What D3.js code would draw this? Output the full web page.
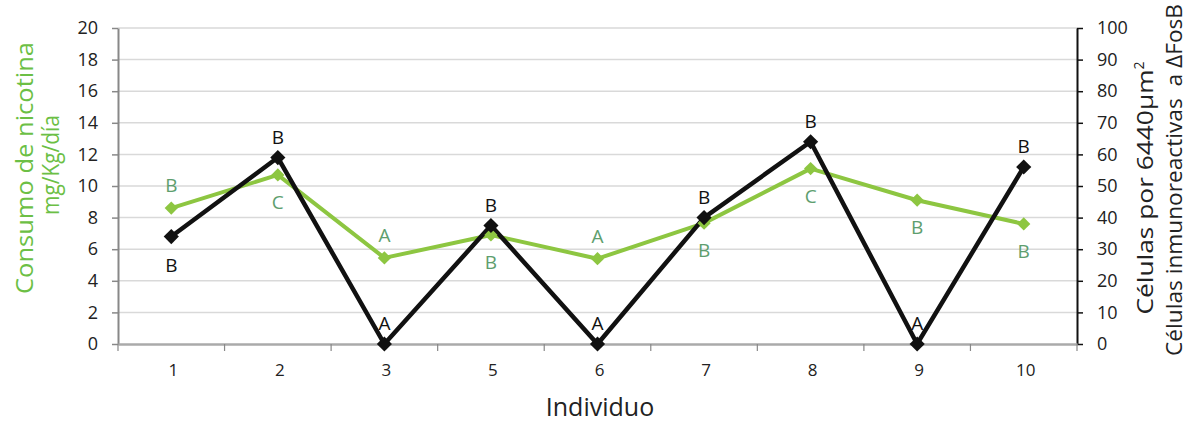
<!DOCTYPE html>
<html><head><meta charset="utf-8">
<script src="https://cdn.jsdelivr.net/npm/d3@7"></script>
<style>body{margin:0;background:#fff;} svg{display:block;}</style>
</head><body>
<svg id="chart" width="1190" height="424"></svg>
<script>
const categories = ["1","2","3","5","6","7","8","9","10"];
const nicotina = [8.6, 10.7, 5.45, 6.9, 5.4, 7.65, 11.1, 9.1, 7.6];
const nicotinaLetters = ["B","C","A","B","A","B","C","B","B"];
const nicotinaLetterPos = ["above","below","above","below","above","below","below","below","below"];
const celulas = [34, 59, 0, 37.5, 0, 40, 64, 0, 56];
const celulasLetters = ["B","B","A","B","A","B","B","A","B"];
const celulasLetterPos = ["below","above","above","above","above","above","above","above","above"];
const leftTicks = [0,2,4,6,8,10,12,14,16,18,20];
const rightTicks = [0,10,20,30,40,50,60,70,80,90,100];

const svg = d3.select("#chart");
const L = 118, R = 1077, T = 28, B = 344;

const x = d3.scaleBand().domain(categories).range([L, R]);
const yL = d3.scaleLinear().domain([0, 20]).range([B, T]);
const yR = d3.scaleLinear().domain([0, 100]).range([B, T]);

// gridlines
svg.append("g").selectAll("line").data(leftTicks.filter(d => d > 0)).join("line")
  .attr("x1", L).attr("x2", R).attr("y1", d => yL(d)).attr("y2", d => yL(d))
  .attr("stroke", "#d9d9d9").attr("stroke-width", 1.5);

// left axis
const gL = svg.append("g").attr("transform", `translate(${L},0)`)
  .call(d3.axisLeft(yL).tickValues(leftTicks).tickSize(6).tickSizeOuter(0));
gL.select(".domain").attr("stroke", "#888").attr("stroke-width", 2);
gL.selectAll(".tick line").attr("stroke", "#888").attr("stroke-width", 1.5);
gL.selectAll(".tick text").attr("fill", "#222").style("font-family", "Open Sans, sans-serif").style("font-size", "18px").attr("x", -20);

// right axis
const gR = svg.append("g").attr("transform", `translate(${R},0)`)
  .call(d3.axisRight(yR).tickValues(rightTicks).tickSize(6).tickSizeOuter(0));
gR.select(".domain").attr("stroke", "#111").attr("stroke-width", 2);
gR.selectAll(".tick line").attr("stroke", "#111").attr("stroke-width", 1.5);
gR.selectAll(".tick text").attr("fill", "#222").style("font-family", "Open Sans, sans-serif").style("font-size", "18px").attr("x", 20);

// x axis
const gX = svg.append("g").attr("transform", `translate(0,${B})`)
  .call(d3.axisBottom(x).tickSize(0).tickSizeOuter(0));
gX.select(".domain").attr("stroke", "#aaa").attr("stroke-width", 2.5);
gX.selectAll(".tick text").attr("fill", "#222").style("font-family", "Open Sans, sans-serif").style("font-size", "17px").attr("y", 20).attr("dx", 2);
// boundary ticks
const bounds = categories.map(c => x(c)).concat([R]);
svg.append("g").selectAll("line").data(bounds).join("line")
  .attr("x1", d => d).attr("x2", d => d).attr("y1", B).attr("y2", B + 7)
  .attr("stroke", "#888").attr("stroke-width", 1.2);

const cx = c => x(c) + x.bandwidth() / 2;

// green line
svg.append("path").datum(nicotina)
  .attr("d", d3.line().x((d, i) => cx(categories[i])).y(d => yL(d)))
  .attr("fill", "none").attr("stroke", "#8dc641").attr("stroke-width", 4).attr("stroke-linejoin", "round");

// black line
svg.append("path").datum(celulas)
  .attr("d", d3.line().x((d, i) => cx(categories[i])).y(d => yR(d)))
  .attr("fill", "none").attr("stroke", "#111").attr("stroke-width", 4.5).attr("stroke-linejoin", "miter");

// diamond markers (rotated squares)
svg.append("g").selectAll("path").data(nicotina).join("path")
  .attr("d", d3.symbol().type(d3.symbolSquare).size(88))
  .attr("transform", (d, i) => `translate(${cx(categories[i])},${yL(d)}) rotate(45)`)
  .attr("fill", "#8dc641");

svg.append("g").selectAll("path").data(celulas).join("path")
  .attr("d", d3.symbol().type(d3.symbolSquare).size(115))
  .attr("transform", (d, i) => `translate(${cx(categories[i])},${yR(d)}) rotate(45)`)
  .attr("fill", "#111");

// letters
svg.append("g").selectAll("text").data(nicotina).join("text")
  .attr("x", (d, i) => cx(categories[i]))
  .attr("y", (d, i) => nicotinaLetterPos[i] === "above" ? yL(d) - 16 : yL(d) + 34)
  .attr("text-anchor", "middle").attr("fill", "#5e9e6e")
  .style("font-family", "Open Sans, sans-serif").style("font-size", "19px")
  .text((d, i) => nicotinaLetters[i]);

svg.append("g").selectAll("text").data(celulas).join("text")
  .attr("x", (d, i) => cx(categories[i]))
  .attr("y", (d, i) => celulasLetterPos[i] === "above" ? yR(d) - 14 : yR(d) + 35)
  .attr("text-anchor", "middle").attr("fill", "#111")
  .style("font-family", "Open Sans, sans-serif").style("font-size", "19px")
  .text((d, i) => celulasLetters[i]);

// titles
function vtitle(xpos, ycenter, str, len, size, fill) {
  return svg.append("text").attr("transform", `translate(${xpos},${ycenter}) rotate(-90)`)
    .attr("text-anchor", "middle").attr("fill", fill)
    .attr("textLength", len).attr("lengthAdjust", "spacingAndGlyphs")
    .style("font-family", "Open Sans, sans-serif").style("font-size", size + "px")
    .text(str);
}
vtitle(33, 168, "Consumo de nicotina", 252, 23, "#6cbf45");
vtitle(59, 165, "mg/Kg/día", 100, 23, "#6cbf45");

const t1 = svg.append("text").attr("transform", "translate(1153,188) rotate(-90)")
  .attr("text-anchor", "middle").attr("fill", "#222")
  .style("font-family", "Open Sans, sans-serif").style("font-size", "22px");
t1.append("tspan").attr("textLength", 245).attr("lengthAdjust", "spacingAndGlyphs").text("Células por 6440µm");
t1.append("tspan").attr("dy", -9).style("font-size", "14px").text("2");

svg.append("text").attr("transform", "translate(1182,180) rotate(-90)")
  .attr("text-anchor", "middle").attr("fill", "#222")
  .attr("textLength", 352).attr("lengthAdjust", "spacingAndGlyphs")
  .style("font-family", "Open Sans, sans-serif").style("font-size", "22px")
  .style("white-space", "pre")
  .text("Células inmunoreactivas  a ΔFosB");

svg.append("text").attr("x", 600).attr("y", 416)
  .attr("text-anchor", "middle").attr("fill", "#222")
  .style("font-family", "Open Sans, sans-serif").style("font-size", "25px")
  .text("Individuo");
</script>
</body></html>
